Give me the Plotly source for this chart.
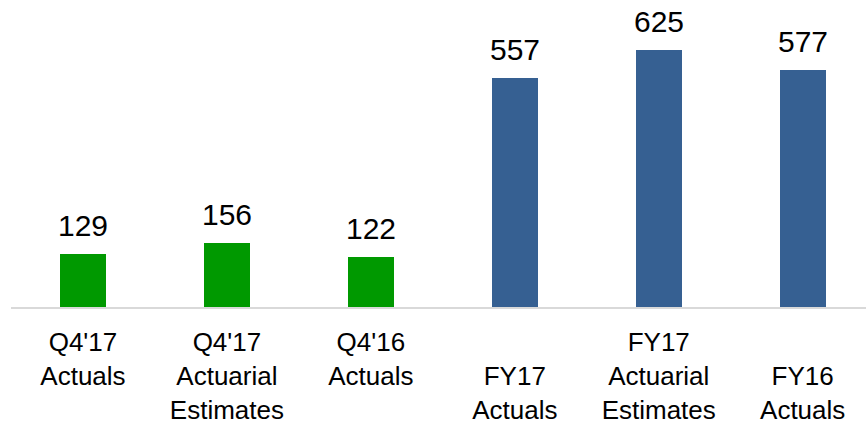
import plotly.graph_objects as go

categories = ["Q4'17<br>Actuals", "Q4'17<br>Actuarial<br>Estimates", "Q4'16<br>Actuals",
              "<br>FY17<br>Actuals", "FY17<br>Actuarial<br>Estimates", "<br>FY16<br>Actuals"]
values = [129, 156, 122, 557, 625, 577]
colors = ["#009900", "#009900", "#009900", "#366092", "#366092", "#366092"]

x_idx = list(range(len(categories)))

fig = go.Figure()
fig.add_trace(go.Bar(x=x_idx, y=values, marker=dict(color=colors, line=dict(width=0)),
                     width=0.32, showlegend=False))

for xi, v in zip(x_idx, values):
    fig.add_annotation(x=xi, y=v, text=str(v), showarrow=False, yanchor="bottom",
                       yshift=10, font=dict(family="Liberation Sans, Arial", size=30, color="#000000"))

fig.update_layout(
    width=866, height=424,
    margin=dict(l=11, r=0, t=0, b=117, autoexpand=False),
    plot_bgcolor="white", paper_bgcolor="white",
    bargap=0,
    font=dict(family="Liberation Sans, Arial", color="#000000"),
)
fig.update_xaxes(range=[-0.5, 5.44], tickmode="array", tickvals=x_idx, ticktext=categories,
                 showline=True, linecolor="#d9d9d9", linewidth=2, showgrid=False, ticks="",
                 tickfont=dict(size=26, color="#000000"), tickangle=0, ticklabelstandoff=11,
                 automargin=False)
fig.update_yaxes(range=[0, 747], visible=False, showgrid=False, zeroline=False, automargin=False)

fig.write_html("out.html")
